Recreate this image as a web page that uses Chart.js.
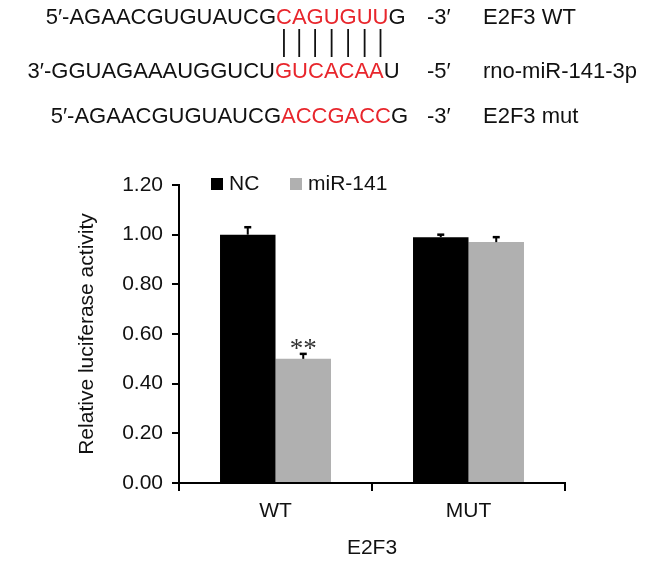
<!DOCTYPE html>
<html>
<head>
<meta charset="utf-8">
<script src="https://cdn.jsdelivr.net/npm/chart.js@4"></script>
<style>
  html, body { margin: 0; padding: 0; background: #fff; }
  #wrap { width: 646px; height: 565px; }
</style>
</head>
<body>
<div id="wrap"><canvas id="lucChart" width="646" height="565"></canvas></div>
<script>
// values
const categories = ["WT", "MUT"];
const ncValues = [1.00, 0.99];
const ncErrors = [0.03, 0.01];
const mirValues = [0.50, 0.97];
const mirErrors = [0.02, 0.02];
const mirStars = ["**", ""];
const yTicks = [0, 0.2, 0.4, 0.6, 0.8, 1.0, 1.2];

// sequence alignment shown above the chart: [black prefix, red seed, black tail, end, name]
const seqRows = [
  ["5\u2032-AGAACGUGUAUCG", "CAGUGUU", "G", "-3\u2032", "E2F3 WT"],
  ["3\u2032-GGUAGAAAUGGUCU", "GUCACAA", "U", "-5\u2032", "rno-miR-141-3p"],
  ["5\u2032-AGAACGUGUAUCG", "ACCGACC", "G", "-3\u2032", "E2F3 mut"],
];

const FONT = '"Liberation Sans", Arial, Helvetica, sans-serif';
const RED = "#e8262c";

const headerPlugin = {
  id: "header",
  afterDraw(chart) {
    const ctx = chart.ctx;
    const rowY = [18, 72, 117];
    const seedX = [276, 275, 281];
    ctx.save();
    ctx.font = "22px " + FONT;
    ctx.textBaseline = "middle";
    let pipeXs = [];
    seqRows.forEach((row, i) => {
      const y = rowY[i];
      ctx.fillStyle = "#111";
      ctx.textAlign = "right";
      ctx.fillText(row[0], seedX[i], y);
      ctx.textAlign = "left";
      ctx.fillStyle = RED;
      ctx.fillText(row[1], seedX[i], y);
      if (i === 0) {
        let x = seedX[i];
        for (const ch of row[1]) {
          const w = ctx.measureText(ch).width;
          pipeXs.push(x + w / 2);
          x += w;
        }
      }
      const seedW = ctx.measureText(row[1]).width;
      ctx.fillStyle = "#111";
      ctx.fillText(row[2], seedX[i] + seedW, y);
      ctx.fillText(row[3], 427, y);
      ctx.fillText(row[4], 483, y);
    });
    // base pairing lines
    ctx.strokeStyle = "#111";
    ctx.lineWidth = 1.8;
    pipeXs.forEach(x => {
      ctx.beginPath();
      ctx.moveTo(x, 29);
      ctx.lineTo(x, 57);
      ctx.stroke();
    });
    ctx.restore();
  }
};

const errorBarPlugin = {
  id: "errorBars",
  afterDatasetsDraw(chart) {
    const ctx = chart.ctx;
    const yScale = chart.scales.y;
    const errs = [ncErrors, mirErrors];
    ctx.save();
    ctx.strokeStyle = "#000";
    chart.data.datasets.forEach((ds, i) => {
      const meta = chart.getDatasetMeta(i);
      meta.data.forEach((bar, j) => {
        const top = yScale.getPixelForValue(ds.data[j] + errs[i][j]);
        ctx.lineWidth = 2;
        ctx.beginPath();
        ctx.moveTo(bar.x, bar.y);
        ctx.lineTo(bar.x, top);
        ctx.stroke();
        ctx.lineWidth = 2.5;
        ctx.beginPath();
        ctx.moveTo(bar.x - 3.5, top);
        ctx.lineTo(bar.x + 3.5, top);
        ctx.stroke();
        if (i === 1 && mirStars[j]) {
          ctx.fillStyle = "#333";
          ctx.font = "27px \"Liberation Serif\", serif";
          ctx.textAlign = "center";
          ctx.textBaseline = "alphabetic";
          ctx.fillText(mirStars[j], bar.x, top + 3);
        }
      });
    });
    ctx.restore();
  }
};

const legendPlugin = {
  id: "insideLegend",
  afterDraw(chart) {
    const ctx = chart.ctx;
    const xs = [211, 290];
    ctx.save();
    ctx.font = "21px " + FONT;
    ctx.textBaseline = "middle";
    ctx.textAlign = "left";
    chart.data.datasets.forEach((ds, i) => {
      ctx.fillStyle = ds.backgroundColor;
      ctx.fillRect(xs[i], 178, 12, 12);
      ctx.fillStyle = "#111";
      ctx.fillText(ds.label, xs[i] + 18, 184);
    });
    ctx.restore();
  }
};

new Chart(document.getElementById("lucChart").getContext("2d"), {
  type: "bar",
  data: {
    labels: categories,
    datasets: [
      { label: "NC", data: ncValues, backgroundColor: "#000000" },
      { label: "miR-141", data: mirValues, backgroundColor: "#b0b0b0" },
    ],
  },
  options: {
    responsive: false,
    animation: false,
    devicePixelRatio: 1,
    categoryPercentage: 0.575,
    barPercentage: 1.0,
    layout: { padding: { left: 60, right: 81, top: 185, bottom: 0 } },
    plugins: {
      legend: { display: false },
      tooltip: { enabled: false },
    },
    scales: {
      x: {
        grid: {
          display: true,
          drawOnChartArea: false,
          drawTicks: true,
          tickLength: 8,
          color: "#000",
          lineWidth: 2,
        },
        border: { display: true, color: "#000", width: 2 },
        ticks: { color: "#111", font: { family: FONT, size: 21 }, padding: 8 },
        title: {
          display: true,
          text: "E2F3",
          color: "#111",
          font: { family: FONT, size: 21 },
          padding: { top: 4, bottom: 4 },
        },
        afterFit(scale) { scale.height = 82; },
      },
      y: {
        min: 0,
        max: 1.2,
        afterBuildTicks(scale) { scale.ticks = yTicks.map(v => ({ value: v })); },
        grid: {
          display: true,
          drawOnChartArea: false,
          drawTicks: true,
          tickLength: 7,
          color: "#000",
          lineWidth: 2,
        },
        border: { display: true, color: "#000", width: 2 },
        ticks: {
          color: "#111",
          font: { family: FONT, size: 21 },
          padding: 9,
          callback: v => Number(v).toFixed(2),
        },
        title: {
          display: true,
          text: "Relative luciferase activity",
          color: "#111",
          font: { family: FONT, size: 21 },
          padding: { top: 15, bottom: 4 },
        },
        afterFit(scale) { scale.width = 119; },
      },
    },
  },
  plugins: [headerPlugin, errorBarPlugin, legendPlugin],
});
</script>
</body>
</html>
